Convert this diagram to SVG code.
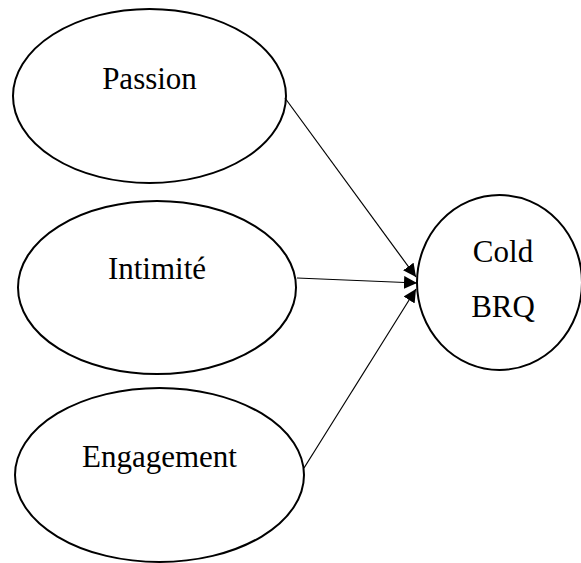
<svg xmlns="http://www.w3.org/2000/svg" width="581" height="563" viewBox="0 0 581 563">
<style>
.node{fill:#fff;stroke:#000;stroke-width:2}
.lbl{font-family:"Liberation Serif","Times New Roman",serif;font-size:31px;fill:#000;text-anchor:middle}
.edge{stroke:#000;stroke-width:1.2;fill:none;marker-end:url(#ah)}
</style>
<defs>
<marker id="ah" viewBox="0 0 10 10" refX="10" refY="5" markerWidth="13" markerHeight="13" markerUnits="userSpaceOnUse" orient="auto">
<path d="M0,0 L10,5 L0,10 z" fill="#000"/>
</marker>
</defs>
<rect width="581" height="563" fill="#fff"/>
<g id="passion"><ellipse class="node" cx="149.5" cy="96" rx="136.5" ry="87"/><text class="lbl" x="149.5" y="89">Passion</text></g>
<g id="intimite"><ellipse class="node" cx="157" cy="287.5" rx="139" ry="86.5"/><text class="lbl" x="157" y="279">Intimité</text></g>
<g id="engagement"><ellipse class="node" cx="159.5" cy="475" rx="144.5" ry="87"/><text class="lbl" x="159.5" y="467">Engagement</text></g>
<g id="coldbrq"><ellipse class="node" cx="499.5" cy="282.5" rx="82.5" ry="87.5"/><text class="lbl" x="503" y="262">Cold</text><text class="lbl" x="503" y="317">BRQ</text></g>
<g id="connectors">
<line class="edge" x1="285" y1="98" x2="416" y2="277"/>
<line class="edge" x1="297" y1="278" x2="417" y2="283"/>
<line class="edge" x1="304" y1="468" x2="416" y2="289"/>
</g>
</svg>
